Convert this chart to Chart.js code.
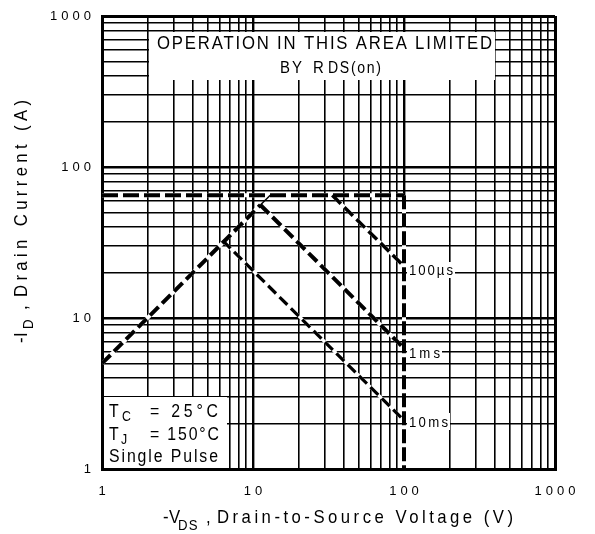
<!DOCTYPE html>
<html><head><meta charset="utf-8">
<script src="https://cdn.jsdelivr.net/npm/chart.js@4.4.0/dist/chart.umd.min.js"></script>
<style>html,body{margin:0;padding:0;background:#fff;}#wrap{width:595px;height:534px;}</style>
</head><body><div id="wrap"><canvas id="c" width="595" height="534"></canvas></div>
<script>
// ---- axis structure ----
const decades = [1, 10, 100, 1000];
const xTickLabels = ['1', '10', '100', '1000'];
const yTickLabels = ['1', '10', '100', '1000'];

// ---- series: -VDS (V) and -ID (A) ----
const limitV = [1, 100];        const limitI = [65, 65];
const breakdownV = [100, 100];  const breakdownI = [65, 1];
const rdsV = [1, 11.2];         const rdsI = [5, 56];
const rdsTopV = [11.2, 13];     const rdsTopI = [56, 65];
const p100usV = [33.5, 100];    const p100usI = [65, 22];
const p1msV = [11.2, 100];      const p1msI = [56, 6.3];
const p10msV = [6.3, 100];      const p10msI = [32.5, 2.1];

const FONT = '"Liberation Sans", Arial, Helvetica, sans-serif';
const TICK_SPACING = 4;

function pts(xs, ys) { return xs.map((x, i) => ({x: x, y: ys[i]})); }

const gridValues = [];
for (let d = 0; d < decades.length - 1; d++) {
  for (let m = 1; m < 10; m++) gridValues.push(m * decades[d]);
}
gridValues.push(decades[decades.length - 1]);

function gridWidth(c) {
  const v = c.tick ? c.tick.value : 0;
  if (v === 1 || v === 1000) return 3;
  if (decades.indexOf(v) >= 0) return 2.4;
  return 1.6;
}

const series = [
  {v: limitV, i: limitI, w: 4, dash: [16, 5]},
  {v: breakdownV, i: breakdownI, w: 4, dash: [14, 4]},
  {v: rdsV, i: rdsI, w: 4, dash: [12, 5]},
  {v: p100usV, i: p100usI, w: 3.5, dash: [12, 5]},
  {v: p1msV, i: p1msI, w: 4, dash: [12, 5]},
  {v: p10msV, i: p10msI, w: 3.2, dash: [11, 5]}
];

const datasets = [];
series.forEach(s => {
  datasets.push({data: pts(s.v, s.i), borderColor: '#000', borderWidth: s.w, borderDash: s.dash,
    pointRadius: 0, fill: false, tension: 0, order: 0, borderCapStyle: 'butt'});
  datasets.push({data: pts(s.v, s.i), borderColor: '#fff', borderWidth: s.w, pointRadius: 0,
    fill: false, tension: 0, order: 1});
});
datasets.push({data: pts(rdsTopV, rdsTopI), borderColor: '#000', borderWidth: 1.5, pointRadius: 0,
  fill: false, tension: 0, order: 0});

// width = 0 -> natural letter spacing (ls px)
function fitText(ctx, s, left, baseline, size, width, sx, ls0) {
  ctx.save();
  ctx.font = size + 'px ' + FONT;
  ctx.letterSpacing = '0px';
  ctx.textAlign = 'left';
  ctx.textBaseline = 'alphabetic';
  const w0 = ctx.measureText(s).width;
  const n = s.length;
  let ls = ls0 || 0;
  if (n > 1 && width) ls = (width / sx - w0) / (n - 1);
  ctx.letterSpacing = ls + 'px';
  ctx.translate(left, baseline);
  ctx.scale(sx, 1);
  ctx.fillStyle = '#000';
  ctx.fillText(s, 0, 0);
  ctx.restore();
}

const annot = {
  id: 'annot',
  beforeDraw(chart) { chart.ctx.letterSpacing = TICK_SPACING + 'px'; },
  afterDraw(chart) {
    const ctx = chart.ctx;
    ctx.letterSpacing = '0px';
    const SX = 0.88;
    ctx.save();
    ctx.fillStyle = '#fff';
    ctx.fillRect(149, 32, 346, 48);
    ctx.fillRect(104, 397, 123, 71);
    ctx.fillRect(407, 262, 48, 16);
    ctx.fillRect(407, 345, 35, 16);
    ctx.fillRect(407, 413, 43, 17);
    ctx.restore();

    fitText(ctx, 'OPERATION IN THIS AREA LIMITED', 157, 49, 19, 335, SX);
    fitText(ctx, 'BY', 280, 73, 17, 22, SX);
    fitText(ctx, 'R', 313, 73, 17, 0, SX);
    fitText(ctx, 'DS(on)', 328, 73, 16, 53, SX);

    fitText(ctx, 'T', 109, 417, 18, 0, SX);
    fitText(ctx, 'C', 122, 421, 14, 0, SX);
    fitText(ctx, '= 25°C', 150, 417, 18, 68, SX);
    fitText(ctx, 'T', 109, 440, 18, 0, SX);
    fitText(ctx, 'J', 121, 444, 14, 0, SX);
    fitText(ctx, '= 150°C', 150, 440, 18, 69, SX);
    fitText(ctx, 'Single Pulse', 109, 462, 18, 109, SX);

    fitText(ctx, '100µs', 409, 275, 15, 44, SX);
    fitText(ctx, '1ms', 409, 358, 15, 31, SX);
    fitText(ctx, '10ms', 409, 427, 15, 39, SX);

    // x axis title
    fitText(ctx, '-V', 163, 523, 19, 0, SX, 0.5);
    fitText(ctx, 'DS', 178, 530, 15, 0, SX, 1.5);
    fitText(ctx, ',', 206, 523, 19, 0, SX);
    fitText(ctx, 'Drain-to-Source Voltage (V)', 217, 523, 19, 296, SX);

    // y axis title
    ctx.save();
    ctx.translate(27, 343);
    ctx.rotate(-Math.PI / 2);
    fitText(ctx, '-I', 0, 0, 19, 0, SX, 0.5);
    fitText(ctx, 'D', 14, 6, 15, 0, SX);
    fitText(ctx, ',', 33, 0, 19, 0, SX);
    fitText(ctx, 'Drain Current (A)', 46, 0, 19, 197, SX);
    ctx.restore();
  }
};

function tickSetup(scale) {
  scale.ticks = gridValues.map(v => ({value: v, major: decades.indexOf(v) >= 0}));
}

new Chart(document.getElementById('c'), {
  type: 'line',
  data: {datasets: datasets},
  plugins: [annot],
  options: {
    responsive: false,
    animation: false,
    devicePixelRatio: 1,
    layout: {padding: {left: 0, right: 40, top: 16, bottom: 0}},
    plugins: {legend: {display: false}, tooltip: {enabled: false}, title: {display: false}},
    scales: {
      x: {
        type: 'logarithmic', min: 1, max: 1000,
        afterBuildTicks: tickSetup,
        afterFit: s => { s.height = 65; },
        ticks: {
          autoSkip: false, maxRotation: 0, minRotation: 0, padding: 15, color: '#000',
          labelOffset: TICK_SPACING / 2,
          font: {family: FONT, size: 13},
          callback: v => { const k = decades.indexOf(v); return k >= 0 ? xTickLabels[k] : ''; }
        },
        grid: {color: '#000', lineWidth: gridWidth, drawTicks: false},
        border: {display: true, color: '#000', width: 3}
      },
      y: {
        type: 'logarithmic', min: 1, max: 1000,
        afterBuildTicks: tickSetup,
        afterFit: s => { s.width = 102; },
        ticks: {
          autoSkip: false, padding: 7, color: '#000',
          font: {family: FONT, size: 13},
          callback: v => { const k = decades.indexOf(v); return k >= 0 ? yTickLabels[k] : ''; }
        },
        grid: {color: '#000', lineWidth: gridWidth, drawTicks: false},
        border: {display: true, color: '#000', width: 3}
      }
    }
  }
});
</script></body></html>
